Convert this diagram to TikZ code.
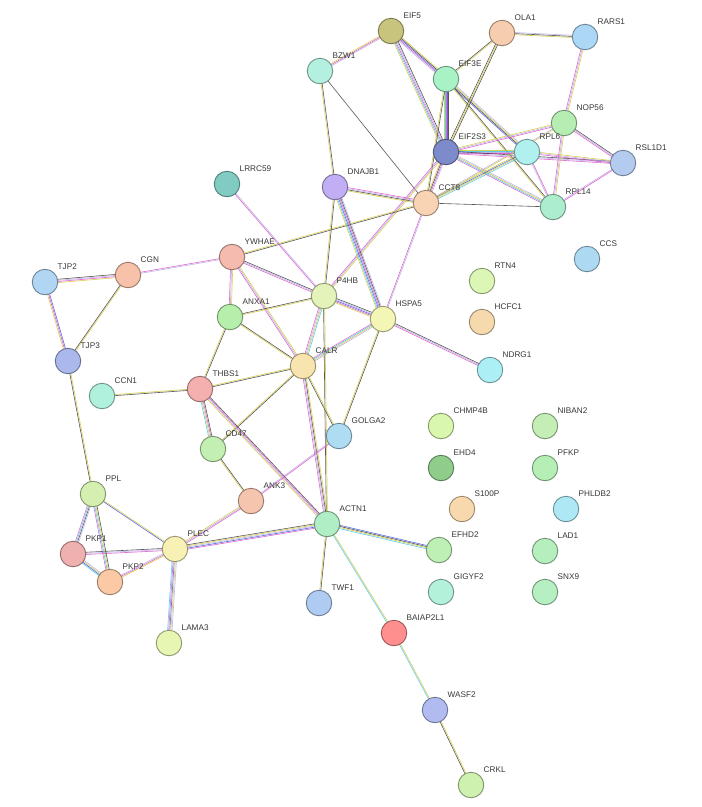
\documentclass[tikz,border=0pt]{standalone}
\usepackage{fontspec}
\setmainfont{Liberation Sans}
\usetikzlibrary{calc,backgrounds}
\pgfdeclarelayer{paper}
\pgfsetlayers{paper,background,main}
\definecolor{cY}{HTML}{D2C832}
\definecolor{cK}{HTML}{3A3A3A}
\definecolor{cM}{HTML}{DC4CC8}
\definecolor{cC}{HTML}{3CC4EC}
\definecolor{cB}{HTML}{3A52DC}
\definecolor{cL}{HTML}{B4A8E6}
\tikzset{
  gene/.style={circle, draw=#1!62!black, fill=#1, line width=0.9pt, minimum size=25.5pt, inner sep=0pt},
  lbl/.style={anchor=west, font=\fontsize{8.2}{10}\selectfont, text=black!78, inner sep=0pt},
  edgeline/.style={line width=0.6pt, opacity=0.85}
}
\newcommand\gene[4]{%
  \definecolor{n#1}{HTML}{#4}%
  \node[gene=n#1] (#1) at (#2,#3) {};
  \node[lbl] (#1L) at (#2+12.5,#3-15) {#1};}
\newcommand\lnk[3]{%
  \foreach \cc [count=\k] in {#3}{\xdef\nlines{\k}}%
  \foreach \cc [count=\k] in {#3}{%
    \pgfmathsetmacro\off{(\k-(\nlines+1)/2)*1.1}%
    \draw[draw=\cc, edgeline] ($(#1)!\off pt!90:(#2)$) -- ($(#2)!\off pt!-90:(#1)$);}}
\begin{document}
\begin{tikzpicture}[x=1pt,y=-1pt]
\begin{pgfonlayer}{paper}
\fill[white] (0,0) rectangle (702,807);
\end{pgfonlayer}
\useasboundingbox (0,0) rectangle (702,807);
\gene{EIF5}{391}{31}{C8C47E}
\gene{OLA1}{502}{33}{F6CDAE}
\gene{RARS1}{585}{37}{ACD8F6}
\gene{BZW1}{320}{71}{B4F0DF}
\gene{EIF3E}{446}{79}{A8F2C6}
\gene{NOP56}{564}{123}{B6EDB3}
\gene{EIF2S3}{446}{152}{7E8BCB}
\gene{RPL6}{527}{152}{B0F0EE}
\gene{RSL1D1}{623}{163}{B4CBF0}
\gene{DNAJB1}{335}{187}{C1AEF5}
\gene{CCT8}{426}{203}{F8D3B4}
\gene{RPL14}{553}{207}{ACEDCE}
\gene{LRRC59}{227}{184}{80CCC2}
\gene{CCS}{587}{259}{AED9F2}
\gene{YWHAE}{232}{257}{F4BBAE}
\gene{CGN}{128}{275}{F8C2AA}
\gene{TJP2}{45}{282}{B0D6F3}
\gene{RTN4}{482}{281}{DCF6B6}
\gene{P4HB}{324}{296}{E3F3BA}
\gene{HSPA5}{383}{319}{F4F6B6}
\gene{HCFC1}{482}{322}{F6DAAE}
\gene{ANXA1}{230}{317}{B6EFAC}
\gene{TJP3}{68}{361}{AAB8EC}
\gene{CALR}{303}{366}{F8E4AE}
\gene{THBS1}{200}{389}{F4AFAF}
\gene{NDRG1}{490}{370}{ACEFF5}
\gene{CCN1}{102}{396}{B0F1DE}
\gene{GOLGA2}{339}{436}{AEDDF3}
\gene{CHMP4B}{441}{426}{D9F8AE}
\gene{NIBAN2}{545}{426}{C4EEB6}
\gene{CD47}{213}{449}{C4EFB2}
\gene{EHD4}{441}{468}{90CC8A}
\gene{PFKP}{545}{468}{B6EFB6}
\gene{PPL}{93}{494}{D4EFB0}
\gene{ANK3}{251}{501}{F6C5AE}
\gene{S100P}{462}{509}{F8D9AE}
\gene{PHLDB2}{566}{509}{AEE8F5}
\gene{ACTN1}{327}{524}{B0EFC6}
\gene{PKP1}{73}{554}{EFB0B0}
\gene{PLEC}{175}{549}{F8F1B6}
\gene{EFHD2}{439}{550}{BEF0B6}
\gene{LAD1}{545}{551}{B6EFBE}
\gene{PKP2}{110}{582}{FBC9A6}
\gene{GIGYF2}{441}{592}{B4F1DA}
\gene{SNX9}{545}{592}{B6EFC2}
\gene{TWF1}{319}{603}{B0CBF1}
\gene{LAMA3}{169}{643}{E7F6B2}
\gene{BAIAP2L1}{394}{633}{FF8E8E}
\gene{WASF2}{435}{710}{B2BBF0}
\gene{CRKL}{471}{785}{CEF1B0}
\begin{pgfonlayer}{background}
\lnk{EIF5}{BZW1}{cY,cM,cL}
\lnk{EIF5}{EIF3E}{cL,cM,cB,cK,cY}
\lnk{EIF5}{EIF2S3}{cY,cC,cM,cL,cK}
\lnk{EIF3E}{RPL6}{cB,cK,cY,cL}
\lnk{EIF3E}{EIF2S3}{cY,cC,cM,cB,cK}
\lnk{EIF3E}{CCT8}{cY,cK}
\lnk{EIF3E}{OLA1}{cY,cK}
\lnk{EIF3E}{RPL14}{cY,cK}
\lnk{OLA1}{EIF2S3}{cK,cY,cK}
\lnk{OLA1}{RARS1}{cY,cK,cL}
\lnk{RARS1}{NOP56}{cM,cL,cY}
\lnk{BZW1}{DNAJB1}{cY,cK}
\lnk{BZW1}{CCT8}{cK}
\lnk{EIF2S3}{CCT8}{cY,cK,cM,cL}
\lnk{EIF2S3}{RPL6}{cM,cL,cC,cY}
\lnk{EIF2S3}{NOP56}{cM,cL,cY}
\lnk{EIF2S3}{RSL1D1}{cM,cL,cK}
\lnk{EIF2S3}{RPL14}{cM,cC,cY,cL}
\lnk{EIF2S3}{P4HB}{cM,cL,cY}
\lnk{CCT8}{RPL6}{cC,cY,cB,cY}
\lnk{CCT8}{NOP56}{cY,cL}
\lnk{CCT8}{RPL14}{cK}
\lnk{RPL6}{RSL1D1}{cM,cL,cY}
\lnk{RPL6}{RPL14}{cL,cM}
\lnk{NOP56}{RSL1D1}{cM,cL,cK}
\lnk{NOP56}{RPL14}{cM,cL,cY}
\lnk{RSL1D1}{RPL14}{cL,cM}
\lnk{CCT8}{YWHAE}{cY,cK}
\lnk{CCT8}{HSPA5}{cM,cL}
\lnk{CCT8}{DNAJB1}{cM,cL,cK,cY}
\lnk{DNAJB1}{HSPA5}{cY,cC,cB,cM,cK,cL}
\lnk{DNAJB1}{P4HB}{cY,cK}
\lnk{LRRC59}{P4HB}{cM,cL}
\lnk{YWHAE}{CGN}{cM,cL}
\lnk{YWHAE}{P4HB}{cM,cL,cK}
\lnk{YWHAE}{ANXA1}{cM,cL,cY}
\lnk{YWHAE}{CALR}{cM,cL,cY}
\lnk{ANXA1}{P4HB}{cY,cK}
\lnk{ANXA1}{CALR}{cY,cK}
\lnk{ANXA1}{THBS1}{cY,cK}
\lnk{P4HB}{HSPA5}{cY,cM,cB,cL,cK}
\lnk{P4HB}{CALR}{cM,cL,cY,cC}
\lnk{P4HB}{ACTN1}{cK,cY}
\lnk{HSPA5}{CALR}{cM,cC,cY,cL}
\lnk{HSPA5}{GOLGA2}{cY,cK}
\lnk{HSPA5}{NDRG1}{cM,cL,cK}
\lnk{CALR}{THBS1}{cY,cK}
\lnk{CALR}{CD47}{cY,cK}
\lnk{CALR}{GOLGA2}{cK,cY}
\lnk{CALR}{ACTN1}{cM,cL,cK,cY}
\lnk{THBS1}{CCN1}{cY,cK}
\lnk{THBS1}{CD47}{cC,cY,cM,cK}
\lnk{THBS1}{ACTN1}{cY,cL,cM,cK}
\lnk{CD47}{ANK3}{cY,cK}
\lnk{ANK3}{PLEC}{cY,cL,cM}
\lnk{GOLGA2}{ANK3}{cL,cM}
\lnk{PLEC}{ACTN1}{cM,cB,cL,cY,cK}
\lnk{PLEC}{PPL}{cY,cB}
\lnk{PLEC}{PKP1}{cK,cL,cM}
\lnk{PLEC}{PKP2}{cL,cM,cY}
\lnk{PLEC}{LAMA3}{cC,cM,cB,cY,cL}
\lnk{PPL}{PKP1}{cM,cC,cK,cL}
\lnk{PPL}{PKP2}{cM,cC,cY,cK}
\lnk{PKP1}{PKP2}{cC,cB,cY,cL}
\lnk{PPL}{TJP3}{cY,cK}
\lnk{TJP3}{TJP2}{cB,cM,cY}
\lnk{TJP3}{CGN}{cY,cK}
\lnk{TJP2}{CGN}{cY,cM,cL,cK}
\lnk{ACTN1}{EFHD2}{cC,cY,cK,cB}
\lnk{ACTN1}{TWF1}{cY,cK}
\lnk{ACTN1}{BAIAP2L1}{cC,cY}
\lnk{BAIAP2L1}{WASF2}{cC,cY}
\lnk{WASF2}{CRKL}{cK,cY}
\end{pgfonlayer}
\end{tikzpicture}
\end{document}
